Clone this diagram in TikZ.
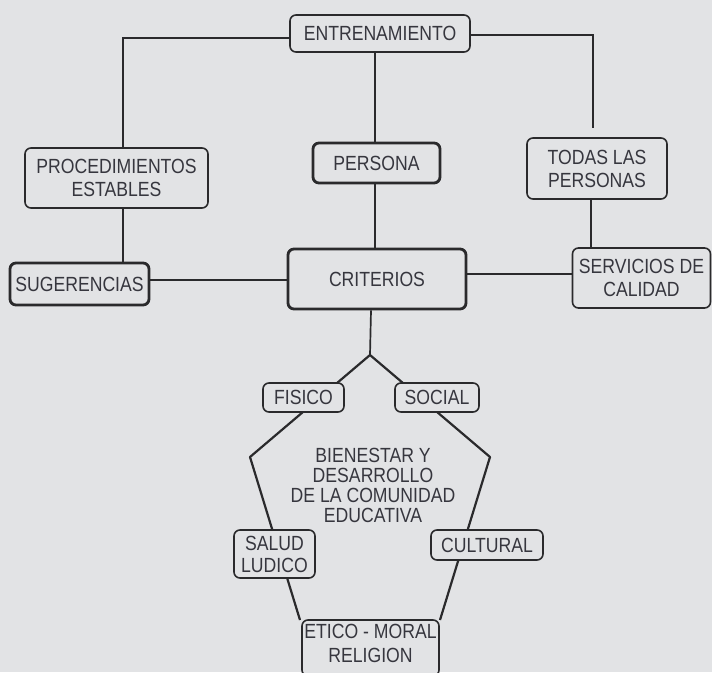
\documentclass[tikz,border=0pt]{standalone}
\usepackage{fontspec}
\setmainfont{Liberation Sans}[FakeStretch=0.86]
\definecolor{bg}{HTML}{E2E3E5}
\definecolor{ink}{HTML}{2A2A2C}
\definecolor{txt}{HTML}{36363E}
\begin{document}
\begin{tikzpicture}[x=1pt,y=-1pt,
  box/.style={draw=ink, line width=1.6pt, rounded corners=6pt, fill=bg, inner sep=0pt,
    align=center, text=txt, font=\fontsize{20.5}{23}\selectfont},
  thickbox/.style={box, line width=2.8pt},
  conn/.style={draw=ink, line width=1.7pt},
  pent/.style={draw=ink, line width=2.2pt, line join=round},
  plain/.style={inner sep=0pt, align=center, text=txt, font=\fontsize{20.5}{23}\selectfont}]
\fill[bg] (0,0) rectangle (712,672);
\useasboundingbox (0,0) rectangle (712,672);

% helper coordinates
\coordinate (cx) at (375,0);
\coordinate (px) at (123,0);
\coordinate (tx) at (591,0);
\coordinate (hy1) at (0,280);
\coordinate (hy2) at (0,274);
\coordinate (tgap) at (593,128);

% pentagon vertices
\coordinate (apex) at (370,355);
\coordinate (lv) at (250,457);
\coordinate (rv) at (490,457);
\coordinate (blv) at (300,620);
\coordinate (brv) at (440,620);

% pentagon outline (drawn first, boxes mask it)
\draw[pent] (blv) -- (lv) -- (apex) -- (rv) -- (brv);

% top part nodes
\node[box, minimum width=180pt, minimum height=37pt] (entr) at (380,33.5) {ENTRENAMIENTO};
\node[box, minimum width=183pt, minimum height=60pt] (proc) at (116.5,178) {PROCEDIMIENTOS\\ESTABLES};
\node[thickbox, minimum width=127pt, minimum height=40pt] (pers) at (376.5,163) {PERSONA};
\node[box, minimum width=140pt, minimum height=61pt] (todas) at (597,168.5) {TODAS LAS\\PERSONAS};
\node[thickbox, minimum width=139pt, minimum height=42pt] (sug) at (79.5,284) {SUGERENCIAS};
\node[thickbox, minimum width=178pt, minimum height=60pt] (crit) at (377,279) {CRITERIOS};
\node[box, minimum width=138pt, minimum height=60pt] (serv) at (641.5,278) {SERVICIOS DE\\CALIDAD};

% pentagon nodes
\node[box, minimum width=81pt, minimum height=29pt] (fis) at (303.5,397.5) {FISICO};
\node[box, minimum width=84pt, minimum height=29pt] (soc) at (437,397.5) {SOCIAL};
\node[box, minimum width=81pt, minimum height=48pt, font=\fontsize{20.5}{22}\selectfont] (sal) at (274.5,554) {SALUD\\LUDICO};
\node[box, minimum width=112pt, minimum height=30pt] (cul) at (487,545) {CULTURAL};
\node[box, minimum width=137pt, minimum height=56pt] (eti) at (370.5,648) {};
\node[plain, font=\fontsize{20.5}{24}\selectfont] (etit) at (370.5,643) {ETICO - MORAL\\RELIGION};

\node[plain, font=\fontsize{20.5}{20}\selectfont] (bien) at (373,485.5) {BIENESTAR Y\\DESARROLLO\\DE LA COMUNIDAD\\EDUCATIVA};

% connectors
\draw[conn] ([yshift=-4.5pt]entr.west) -| (proc.north -| px);
\draw[conn] ([yshift=-1.5pt]entr.east) -| (tgap);
\draw[conn] (entr.south -| cx) -- (pers.north -| cx);
\draw[conn] (pers.south -| cx) -- (crit.north -| cx);
\draw[conn] (proc.south -| px) -- (sug.north -| px);
\draw[conn] (todas.south -| tx) -- (serv.north -| tx);
\draw[conn] (sug.east |- hy1) -- (crit.west |- hy1);
\draw[conn] (crit.east |- hy2) -- (serv.west |- hy2);
\draw[conn] ([xshift=-6pt]crit.south) -- (apex);
\end{tikzpicture}
\end{document}
